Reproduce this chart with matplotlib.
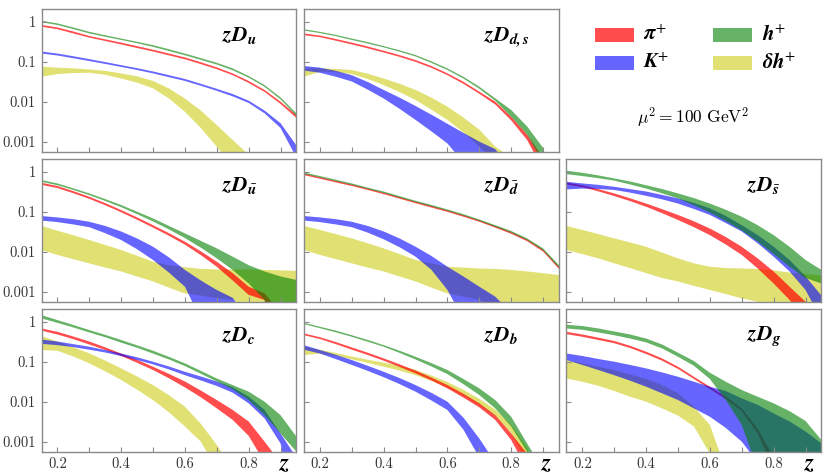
import matplotlib
matplotlib.use("Agg")
import matplotlib.pyplot as plt
from matplotlib.patches import Rectangle

# momentum fraction grid shared by every panel
z = [0.15, 0.2, 0.25, 0.3, 0.35, 0.4, 0.45, 0.5, 0.55, 0.6, 0.65, 0.7, 0.75, 0.8, 0.85, 0.9, 0.95]

# each band is (lower, upper); 1e-5 just means "below the frame"
# --- zD_u
u_pi = ([0.75, 0.65, 0.51, 0.40, 0.33, 0.27, 0.22, 0.18, 0.144, 0.115, 0.087, 0.065, 0.046, 0.0295, 0.0175, 0.0088, 0.0039],
        [0.83, 0.72, 0.57, 0.44, 0.363, 0.30, 0.245, 0.20, 0.16, 0.128, 0.097, 0.072, 0.051, 0.033, 0.0196, 0.010, 0.0046])
u_K = ([0.160, 0.143, 0.122, 0.104, 0.088, 0.074, 0.062, 0.051, 0.041, 0.033, 0.025, 0.0187, 0.0136, 0.0093, 0.0051, 0.0022, 0.0004],
       [0.180, 0.160, 0.137, 0.116, 0.098, 0.082, 0.069, 0.057, 0.046, 0.037, 0.028, 0.021, 0.0155, 0.0106, 0.006, 0.0029, 0.0008])
u_h = ([0.97, 0.83, 0.655, 0.51, 0.42, 0.35, 0.29, 0.235, 0.185, 0.145, 0.111, 0.085, 0.061, 0.040, 0.0235, 0.0114, 0.0044],
       [1.06, 0.91, 0.72, 0.56, 0.46, 0.38, 0.315, 0.26, 0.205, 0.16, 0.123, 0.094, 0.068, 0.044, 0.026, 0.0128, 0.0051])
u_dh = ([0.042, 0.049, 0.052, 0.053, 0.047, 0.038, 0.030, 0.0215, 0.012, 0.0056, 0.0022, 0.00075, 0.00024, 1e-5, 1e-5, 1e-5, 1e-5],
        [0.075, 0.071, 0.068, 0.064, 0.059, 0.051, 0.043, 0.033, 0.0214, 0.012, 0.006, 0.0026, 0.0011, 0.00047, 1e-5, 1e-5, 1e-5])

# --- zD_{d,s}
ds_pi = ([0.46, 0.41, 0.335, 0.27, 0.216, 0.170, 0.132, 0.099, 0.070, 0.046, 0.028, 0.0158, 0.0085, 0.0034, 0.0011, 0.0002, 1e-5],
         [0.51, 0.45, 0.37, 0.30, 0.24, 0.188, 0.146, 0.110, 0.078, 0.051, 0.0316, 0.0178, 0.010, 0.0042, 0.0015, 0.0004, 1e-5])
ds_K = ([0.060, 0.053, 0.042, 0.032, 0.020, 0.012, 0.0066, 0.0035, 0.0018, 0.0009, 0.0003, 1e-5, 1e-5, 1e-5, 1e-5, 1e-5, 1e-5],
        [0.078, 0.071, 0.059, 0.046, 0.031, 0.0196, 0.0126, 0.0078, 0.0047, 0.0028, 0.00166, 0.0010, 0.00065, 0.0002, 1e-5, 1e-5, 1e-5])
ds_h = ([0.60, 0.52, 0.435, 0.35, 0.285, 0.228, 0.178, 0.135, 0.093, 0.062, 0.038, 0.021, 0.0105, 0.0042, 0.0015, 0.0003, 1e-5],
        [0.65, 0.56, 0.47, 0.38, 0.31, 0.246, 0.193, 0.147, 0.102, 0.068, 0.042, 0.0237, 0.0121, 0.0062, 0.0024, 0.0007, 1e-5])
ds_dh = ([0.042, 0.056, 0.055, 0.049, 0.037, 0.026, 0.0174, 0.011, 0.0063, 0.0035, 0.0017, 0.00075, 0.0003, 1e-5, 1e-5, 1e-5, 1e-5],
         [0.068, 0.068, 0.066, 0.062, 0.050, 0.038, 0.028, 0.0196, 0.0126, 0.0075, 0.004, 0.0020, 0.00075, 0.0004, 1e-5, 1e-5, 1e-5])

# --- zD_ubar
ub_pi = ([0.47, 0.39, 0.29, 0.210, 0.145, 0.097, 0.063, 0.040, 0.025, 0.0150, 0.0082, 0.0042, 0.0019, 0.00083, 0.00062, 1e-5, 1e-5],
         [0.53, 0.44, 0.327, 0.237, 0.164, 0.110, 0.072, 0.046, 0.029, 0.0178, 0.0102, 0.0056, 0.0029, 0.00133, 0.0009, 0.0003, 1e-5])
ub_K = ([0.060, 0.055, 0.048, 0.041, 0.029, 0.0196, 0.0115, 0.0062, 0.003, 0.00133, 0.0002, 1e-5, 1e-5, 1e-5, 1e-5, 1e-5, 1e-5],
        [0.078, 0.072, 0.065, 0.056, 0.044, 0.032, 0.0214, 0.0133, 0.0072, 0.0035, 0.0019, 0.0011, 0.0007, 0.0002, 1e-5, 1e-5, 1e-5])
ub_h = ([0.56, 0.46, 0.35, 0.26, 0.186, 0.13, 0.087, 0.057, 0.036, 0.022, 0.0126, 0.0068, 0.0035, 0.0016, 0.00062, 1e-5, 1e-5],
        [0.62, 0.51, 0.385, 0.287, 0.207, 0.147, 0.10, 0.068, 0.044, 0.0287, 0.0186, 0.0121, 0.0075, 0.0046, 0.0032, 0.0024, 0.00196])
ub_dh = ([0.011, 0.0083, 0.0065, 0.0051, 0.004, 0.0032, 0.0024, 0.0018, 0.00126, 0.0009, 0.0008, 0.00068, 0.00062, 0.0004, 0.0004, 0.0004, 0.0004],
         [0.044, 0.0335, 0.0257, 0.0196, 0.0148, 0.011, 0.0079, 0.0056, 0.0046, 0.0041, 0.0037, 0.0036, 0.0036, 0.0036, 0.0035, 0.0034, 0.0033])

# --- zD_dbar
db_pi = ([0.82, 0.67, 0.54, 0.44, 0.35, 0.275, 0.212, 0.163, 0.127, 0.099, 0.075, 0.056, 0.040, 0.028, 0.0183, 0.0101, 0.0037],
         [0.90, 0.73, 0.59, 0.48, 0.38, 0.30, 0.232, 0.178, 0.139, 0.108, 0.082, 0.061, 0.044, 0.031, 0.0202, 0.0113, 0.0042])
db_K = ([0.060, 0.055, 0.048, 0.041, 0.030, 0.0204, 0.0129, 0.0075, 0.0035, 0.0011, 0.0002, 1e-5, 1e-5, 1e-5, 1e-5, 1e-5, 1e-5],
        [0.078, 0.072, 0.065, 0.056, 0.044, 0.032, 0.0214, 0.0133, 0.0078, 0.0042, 0.0024, 0.00133, 0.00075, 0.0003, 1e-5, 1e-5, 1e-5])
db_h = ([0.88, 0.72, 0.58, 0.47, 0.37, 0.295, 0.225, 0.173, 0.136, 0.105, 0.080, 0.059, 0.042, 0.030, 0.0195, 0.0108, 0.0040],
        [0.96, 0.78, 0.63, 0.51, 0.40, 0.32, 0.245, 0.188, 0.148, 0.114, 0.087, 0.064, 0.046, 0.033, 0.0215, 0.0121, 0.0046])
db_dh = ([0.011, 0.0083, 0.0065, 0.0051, 0.004, 0.0032, 0.0024, 0.0018, 0.00126, 0.0009, 0.00075, 0.00062, 0.0004, 0.0004, 0.0004, 0.0004, 0.0004],
         [0.044, 0.035, 0.0275, 0.0215, 0.0162, 0.0121, 0.0087, 0.0062, 0.0051, 0.0042, 0.0040, 0.0038, 0.0037, 0.0035, 0.0032, 0.0029, 0.0026])

# --- zD_sbar
sb_pi = ([0.48, 0.41, 0.323, 0.246, 0.184, 0.133, 0.092, 0.062, 0.041, 0.026, 0.0151, 0.0083, 0.0038, 0.0016, 0.00062, 0.0002, 1e-5],
         [0.54, 0.46, 0.367, 0.287, 0.216, 0.16, 0.116, 0.083, 0.0575, 0.038, 0.0232, 0.0133, 0.0068, 0.0032, 0.00133, 0.00056, 1e-5])
sb_K = ([0.36, 0.38, 0.37, 0.35, 0.30, 0.25, 0.204, 0.16, 0.117, 0.083, 0.052, 0.032, 0.0162, 0.0075, 0.0032, 0.0011, 0.0002],
        [0.56, 0.51, 0.47, 0.42, 0.367, 0.32, 0.263, 0.215, 0.166, 0.121, 0.078, 0.046, 0.026, 0.0133, 0.0062, 0.0024, 0.0008])
sb_h = ([0.87, 0.78, 0.69, 0.60, 0.48, 0.38, 0.288, 0.215, 0.145, 0.095, 0.058, 0.034, 0.0178, 0.0088, 0.0042, 0.0022, 0.0016],
        [1.06, 0.94, 0.81, 0.68, 0.57, 0.46, 0.37, 0.287, 0.219, 0.16, 0.112, 0.075, 0.046, 0.026, 0.0133, 0.0062, 0.0035])
sb_dh = ([0.011, 0.0087, 0.0068, 0.0051, 0.0039, 0.0029, 0.0022, 0.0018, 0.0014, 0.0011, 0.00087, 0.00068, 0.00056, 0.0004, 0.0004, 0.0004, 0.0004],
         [0.044, 0.035, 0.0275, 0.0215, 0.017, 0.0133, 0.0095, 0.0068, 0.0051, 0.0042, 0.0039, 0.0038, 0.0037, 0.0034, 0.0030, 0.0028, 0.0025])

# --- zD_c
c_pi = ([0.60, 0.48, 0.367, 0.27, 0.197, 0.139, 0.094, 0.062, 0.0385, 0.0228, 0.0129, 0.0068, 0.0035, 0.0014, 0.0003, 1e-5, 1e-5],
        [0.68, 0.56, 0.427, 0.32, 0.229, 0.16, 0.111, 0.075, 0.0495, 0.032, 0.019, 0.011, 0.0062, 0.0032, 0.001, 0.0003, 1e-5])
c_K = ([0.28, 0.26, 0.232, 0.20, 0.17, 0.139, 0.11, 0.086, 0.064, 0.046, 0.034, 0.0247, 0.0168, 0.0091, 0.0038, 0.0009, 1e-5],
       [0.36, 0.32, 0.275, 0.237, 0.197, 0.16, 0.129, 0.10, 0.076, 0.056, 0.0427, 0.032, 0.0228, 0.0133, 0.0062, 0.0016, 0.0004])
c_h = ([1.21, 0.94, 0.72, 0.54, 0.41, 0.30, 0.224, 0.16, 0.114, 0.078, 0.05, 0.032, 0.0204, 0.011, 0.0046, 0.0016, 0.00056],
       [1.47, 1.10, 0.83, 0.62, 0.47, 0.35, 0.257, 0.188, 0.132, 0.091, 0.059, 0.038, 0.026, 0.0178, 0.010, 0.0046, 0.00133])
c_dh = ([0.196, 0.188, 0.135, 0.091, 0.0575, 0.035, 0.02, 0.011, 0.0054, 0.0024, 0.001, 0.0002, 1e-5, 1e-5, 1e-5, 1e-5, 1e-5],
        [0.44, 0.32, 0.23, 0.162, 0.107, 0.068, 0.0427, 0.026, 0.0145, 0.0075, 0.0028, 0.00083, 0.0002, 1e-5, 1e-5, 1e-5, 1e-5])

# --- zD_b
b_pi = ([0.46, 0.37, 0.275, 0.20, 0.147, 0.106, 0.074, 0.051, 0.034, 0.0215, 0.0127, 0.0072, 0.0035, 0.0011, 0.0002, 1e-5, 1e-5],
        [0.51, 0.41, 0.31, 0.228, 0.168, 0.121, 0.086, 0.060, 0.040, 0.026, 0.0158, 0.0091, 0.0046, 0.0016, 0.0005, 1e-5, 1e-5])
b_K = ([0.20, 0.16, 0.116, 0.083, 0.059, 0.041, 0.0275, 0.0178, 0.0107, 0.0062, 0.002, 0.0004, 1e-5, 1e-5, 1e-5, 1e-5, 1e-5],
       [0.26, 0.196, 0.148, 0.110, 0.079, 0.056, 0.039, 0.026, 0.0166, 0.010, 0.004, 0.0012, 0.0003, 1e-5, 1e-5, 1e-5, 1e-5])
b_h = ([0.87, 0.69, 0.543, 0.42, 0.316, 0.237, 0.166, 0.114, 0.076, 0.049, 0.0275, 0.0147, 0.0068, 0.0024, 0.00056, 1e-5, 1e-5],
       [0.94, 0.75, 0.60, 0.46, 0.35, 0.26, 0.188, 0.133, 0.092, 0.062, 0.037, 0.0215, 0.011, 0.0042, 0.0009, 0.0002, 1e-5])
b_dh = ([0.147, 0.16, 0.14, 0.115, 0.093, 0.075, 0.060, 0.046, 0.033, 0.0225, 0.014, 0.0082, 0.0044, 0.0016, 0.0003, 1e-5, 1e-5],
        [0.237, 0.20, 0.165, 0.135, 0.112, 0.095, 0.079, 0.062, 0.045, 0.031, 0.0198, 0.0118, 0.0064, 0.0026, 0.0007, 1e-5, 1e-5])

# --- zD_g
g_pi = ([0.49, 0.42, 0.35, 0.29, 0.22, 0.156, 0.106, 0.066, 0.037, 0.0208, 0.0116, 0.0058, 0.0016, 0.0002, 1e-5, 1e-5, 1e-5],
        [0.56, 0.48, 0.40, 0.33, 0.25, 0.178, 0.121, 0.075, 0.042, 0.0237, 0.0133, 0.0068, 0.0021, 0.0004, 1e-5, 1e-5, 1e-5])
g_K = ([0.11, 0.083, 0.062, 0.046, 0.0335, 0.0237, 0.0162, 0.011, 0.0068, 0.0042, 0.0022, 0.001, 0.0003, 1e-5, 1e-5, 1e-5, 1e-5],
       [0.161, 0.139, 0.117, 0.10, 0.083, 0.068, 0.054, 0.042, 0.0316, 0.0237, 0.0185, 0.0121, 0.0083, 0.0051, 0.0032, 0.0018, 0.0009])
g_h = ([0.68, 0.63, 0.54, 0.46, 0.38, 0.305, 0.215, 0.133, 0.079, 0.037, 0.011, 0.0026, 0.0002, 1e-5, 1e-5, 1e-5, 1e-5],
       [0.84, 0.78, 0.68, 0.57, 0.48, 0.38, 0.27, 0.168, 0.104, 0.053, 0.0316, 0.0196, 0.0133, 0.0091, 0.0058, 0.0033, 0.0011])
g_dh = ([0.038, 0.0316, 0.025, 0.0185, 0.0133, 0.010, 0.0068, 0.0045, 0.0024, 0.0005, 1e-5, 1e-5, 1e-5, 1e-5, 1e-5, 1e-5, 1e-5],
        [0.11, 0.091, 0.075, 0.062, 0.048, 0.037, 0.026, 0.0162, 0.0075, 0.0026, 0.0002, 1e-5, 1e-5, 1e-5, 1e-5, 1e-5, 1e-5])

panel_titles = [r"$\mathbfit{zD}_{\mathbfit{u}}$", r"$\mathbfit{zD}_{\mathbfit{d,s}}$", None,
                r"$\mathbfit{zD}_{\bar{\mathbfit{u}}}$", r"$\mathbfit{zD}_{\bar{\mathbfit{d}}}$",
                r"$\mathbfit{zD}_{\bar{\mathbfit{s}}}$",
                r"$\mathbfit{zD}_{\mathbfit{c}}$", r"$\mathbfit{zD}_{\mathbfit{b}}$",
                r"$\mathbfit{zD}_{\mathbfit{g}}$"]
panel_bands = [(u_dh, u_pi, u_K, u_h), (ds_dh, ds_pi, ds_K, ds_h), None,
               (ub_dh, ub_pi, ub_K, ub_h), (db_dh, db_pi, db_K, db_h), (sb_dh, sb_pi, sb_K, sb_h),
               (c_dh, c_pi, c_K, c_h), (b_dh, b_pi, b_K, b_h), (g_dh, g_pi, g_K, g_h)]

# drawing order: delta h, pi, K, h
band_colors = [("#c8c800", 0.55), ("#ff0000", 0.7), ("#0000ff", 0.6), ("#008000", 0.6)]
legend_labels = [r"$\mathbfit{\pi}^{+}$", r"$\mathbfit{K}^{+}$", r"$\mathbfit{h}^{+}$",
                 r"$\mathbfit{\delta h}^{+}$"]

yticks = [1, 0.1, 0.01, 0.001]
ytick_labels = ["1", "0.1", "0.01", "0.001"]
xticks = [0.2, 0.3, 0.4, 0.5, 0.6, 0.7, 0.8, 0.9]
xtick_labels = ["0.2", "", "0.4", "", "0.6", "", "0.8", ""]

fig = plt.figure(figsize=(8.3, 4.75), dpi=100)

lefts = [0.05, 0.3663, 0.6825]
bottoms = [0.6806, 0.3648, 0.049]
w, h = 0.3072, 0.3004
frame = "#8a8a8a"

for i in range(9):
    r, c = divmod(i, 3)
    ax = fig.add_axes([lefts[c], bottoms[r], w, h])
    if panel_bands[i] is None:
        # legend panel
        ax.axis("off")
        ax.set_xlim(0, 1)
        ax.set_ylim(0, 1)
        spots = [(0.112, 0.771, 0.301), (0.112, 0.5725, 0.301),
                 (0.574, 0.771, 0.765), (0.574, 0.5725, 0.765)]
        order = [1, 2, 3, 0]
        for (rx, ry, tx), k, lab in zip(spots, order, legend_labels):
            col, a = band_colors[k]
            ax.add_patch(Rectangle((rx, ry), 0.153, 0.098, facecolor=col, alpha=a,
                                   edgecolor="none"))
            ax.text(tx, ry + 0.012, lab, fontsize=15, math_fontfamily="stix",
                    ha="left", va="baseline")
        ax.text(0.496, 0.236, r"$\mu^2 = 100\ \mathrm{GeV}^2$", fontsize=12.5,
                math_fontfamily="cm", ha="center", va="center")
        continue

    for (lo, hi), (col, a) in zip(panel_bands[i], band_colors):
        ax.fill_between(z, lo, hi, facecolor=col, alpha=a, linewidth=0)

    ax.set_yscale("log")
    ax.set_xlim(0.15, 0.95)
    ax.set_ylim(0.00056, 2.08)
    ax.minorticks_off()
    ax.set_yticks(yticks)
    ax.set_xticks(xticks)
    if c == 0:
        ax.set_yticklabels(ytick_labels, fontfamily="cmr10", fontsize=10.5, color="#333333")
    else:
        ax.set_yticklabels([])
    if r == 2:
        ax.set_xticklabels(xtick_labels, fontfamily="cmr10", fontsize=10.5, color="#333333")
        ax.text(0.95, -0.08, r"$\mathbfit{z}$", transform=ax.transAxes, fontsize=17,
                math_fontfamily="stix", ha="center", va="center")
    else:
        ax.set_xticklabels([])
    ax.tick_params(direction="in", length=3.5, width=0.8, color=frame, pad=4)
    for s in ax.spines.values():
        s.set_color(frame)
        s.set_linewidth(1.0)
    ax.text(0.707, 0.775, panel_titles[i], transform=ax.transAxes, fontsize=15.5,
            math_fontfamily="stix", ha="left", va="baseline")

fig.savefig("out.png", dpi=100)
